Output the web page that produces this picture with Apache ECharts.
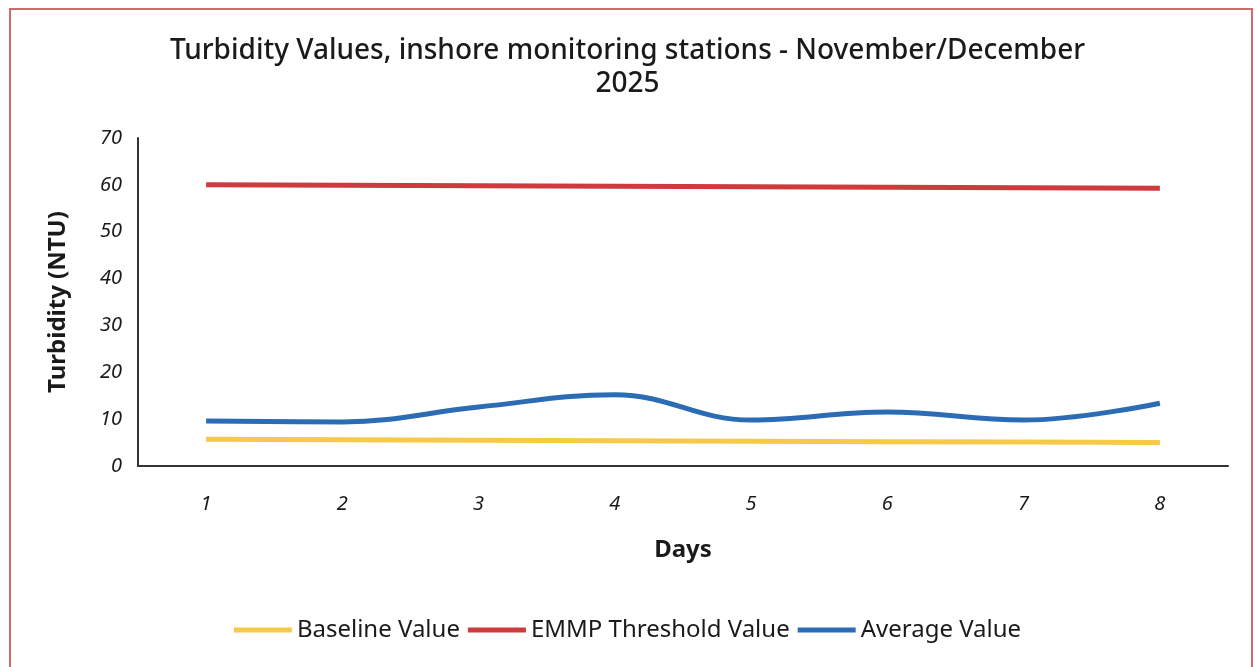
<!DOCTYPE html>
<html lang="en">

<head>
    <meta charset="UTF-8">
    <script src="https://cdn.jsdelivr.net/npm/echarts@6/dist/echarts.min.js"></script>
    <title>Turbidity Values</title>
    <style>
        body {
            margin: 0;
            background: #fff;
        }

        #myEchart {
            width: 1255px;
            height: 667px;
        }

        .frame {
            position: absolute;
            left: 9px;
            top: 8px;
            width: 1240px;
            height: 680px;
            border: 2px solid #d2686c;
            pointer-events: none;
        }
    </style>
</head>

<body>
    <div id="myEchart"></div>
    <div class="frame"></div>
    <script>
        // data
        var days = ['1', '2', '3', '4', '5', '6', '7', '8'];
        var baseline = [5.7, 5.6, 5.5, 5.4, 5.3, 5.2, 5.1, 5.0];
        var threshold = [60, 59.9, 59.8, 59.7, 59.6, 59.5, 59.4, 59.3];
        var average = [9.6, 9.4, 12.6, 15.2, 9.8, 11.5, 9.8, 13.4];
        var yTicks = { min: 0, max: 70, interval: 10 };

        var font = "'Noto Sans', sans-serif";
        var myChart = echarts.init(document.getElementById('myEchart'));
        var option = {
            backgroundColor: '#fff',
            title: {
                text: 'Turbidity Values, inshore monitoring stations - November/December\n2025',
                left: 'center',
                top: 30,
                textStyle: {
                    fontFamily: font,
                    fontSize: 28,
                    fontWeight: 500,
                    color: '#1a1a1a',
                    lineHeight: 33
                }
            },
            legend: {
                bottom: 20,
                left: 'center',
                itemWidth: 58,
                itemHeight: 5,
                itemGap: 8,
                icon: 'rect',
                textStyle: {
                    fontFamily: font,
                    fontSize: 24,
                    color: '#1a1a1a'
                },
                data: ['Baseline Value', 'EMMP Threshold Value', 'Average Value']
            },
            grid: {
                left: 138,
                right: 27,
                top: 138,
                bottom: 201
            },
            xAxis: {
                type: 'category',
                data: days,
                boundaryGap: true,
                name: 'Days',
                nameLocation: 'middle',
                nameGap: 72,
                nameTextStyle: {
                    fontFamily: font,
                    fontSize: 24,
                    fontWeight: 'bold',
                    color: '#1a1a1a'
                },
                axisLine: { lineStyle: { color: '#333', width: 2 } },
                axisTick: { show: false },
                axisLabel: {
                    margin: 28,
                    fontFamily: font,
                    fontSize: 20,
                    fontStyle: 'italic',
                    color: '#1a1a1a'
                }
            },
            yAxis: {
                type: 'value',
                min: yTicks.min,
                max: yTicks.max,
                interval: yTicks.interval,
                name: 'Turbidity (NTU)',
                nameLocation: 'middle',
                nameGap: 68,
                nameTextStyle: {
                    fontFamily: font,
                    fontSize: 24,
                    fontWeight: 'bold',
                    color: '#1a1a1a'
                },
                axisLine: { show: true, lineStyle: { color: '#333', width: 2 } },
                axisTick: { show: false },
                splitLine: { show: false },
                axisLabel: {
                    margin: 16,
                    fontFamily: font,
                    fontSize: 20,
                    fontStyle: 'italic',
                    color: '#1a1a1a'
                }
            },
            series: [
                {
                    name: 'Baseline Value',
                    type: 'line',
                    data: baseline,
                    symbol: 'none',
                    lineStyle: { color: '#f7c948', width: 5 },
                    itemStyle: { color: '#f7c948' }
                },
                {
                    name: 'EMMP Threshold Value',
                    type: 'line',
                    data: threshold,
                    symbol: 'none',
                    lineStyle: { color: '#cf3a3e', width: 5 },
                    itemStyle: { color: '#cf3a3e' }
                },
                {
                    name: 'Average Value',
                    type: 'line',
                    data: average,
                    smooth: 0.4,
                    symbol: 'none',
                    lineStyle: { color: '#2b6cb5', width: 5 },
                    itemStyle: { color: '#2b6cb5' }
                }
            ]
        };
        myChart.setOption(option);
    </script>
</body>

</html>
